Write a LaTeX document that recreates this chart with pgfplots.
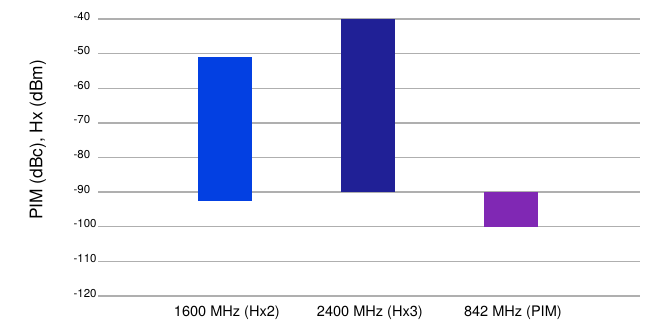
\documentclass[border=0pt]{standalone}
\usepackage{pgfplots}
\pgfplotsset{compat=1.18}
\usepackage{fontspec}
\setmainfont{TeX Gyre Heros}
\definecolor{gridgray}{RGB}{175,175,175}
\definecolor{barA}{RGB}{3,64,226}
\definecolor{barB}{RGB}{32,32,150}
\definecolor{barC}{RGB}{128,40,180}
\begin{document}
\begin{tikzpicture}
\path[use as bounding box] (0,0) rectangle (498.75pt,249.75pt);
\begin{axis}[
  at={(73.5pt,27.75pt)}, anchor=south west,
  scale only axis, width=406.5pt, height=207.75pt,
  ymin=-120, ymax=-40, xmin=-0.89, xmax=2.90,
  ytick={-120,-110,-100,-90,-80,-70,-60,-50,-40},
  yticklabels={-120,-110,-100,-90,-80,-70,-60,-50,-40},
  xtick={0,1,2},
  xticklabels={1600 MHz (Hx2),2400 MHz (Hx3),842 MHz (PIM)},
  ymajorgrids, grid style={draw=gridgray, line width=1.1pt},
  axis line style={draw=none}, major tick length=0pt,
  yticklabel style={font=\fontsize{8.6}{10}\selectfont, anchor=west, xshift=-21.8pt, yshift=2.2pt},
  xticklabel style={font=\fontsize{10.9}{12}\selectfont, anchor=center, xshift=1.2pt, yshift=-12.5pt},
  ylabel={PIM (dBc), Hx (dBm)},
  ylabel style={font=\fontsize{13}{15}\selectfont, at={(axis description cs:-0.111,0.563)}, anchor=center},
  clip=false,
]
% floating bars: (x +- half width, low) to (x +- half width, high)
\addplot[draw=none, fill=barA] coordinates {(-0.19,-92.5) (0.19,-92.5) (0.19,-51) (-0.19,-51)} -- cycle;
\addplot[draw=none, fill=barB] coordinates {(0.81,-90) (1.19,-90) (1.19,-40) (0.81,-40)} -- cycle;
\addplot[draw=none, fill=barC] coordinates {(1.81,-100) (2.19,-100) (2.19,-90) (1.81,-90)} -- cycle;
\end{axis}
\end{tikzpicture}
\end{document}
